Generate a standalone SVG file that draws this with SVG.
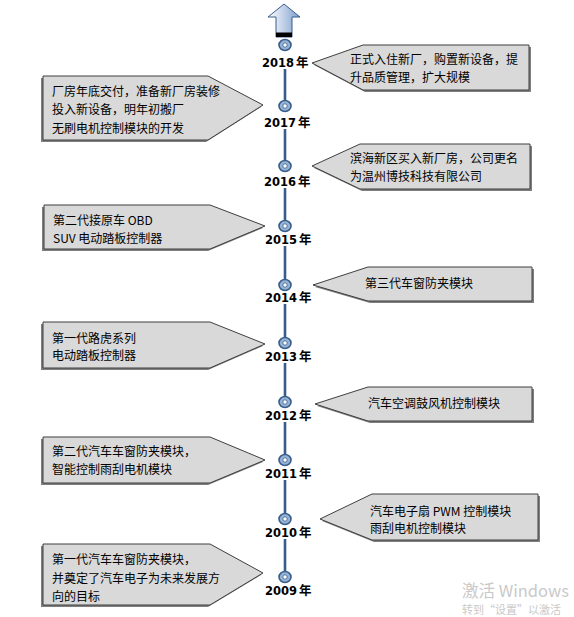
<svg xmlns="http://www.w3.org/2000/svg" width="574" height="617" viewBox="0 0 574 617">
<style>
.box{fill:#D9D9D9;stroke:#3F3F3F;stroke-width:1}
.sh{fill:#7F7F7F}
.t{font-family:"Noto Sans CJK SC","Liberation Sans",sans-serif;font-size:12px;fill:#000}
.yr{font-family:"DejaVu Sans","Liberation Sans",sans-serif;font-weight:bold;font-size:11.5px;fill:#000}
.yc{font-family:"Noto Sans CJK SC",sans-serif;font-weight:bold;font-size:12.5px}
.ln{stroke:#385D8A;stroke-width:2.6;fill:none}
.dot{fill:#95B3D7;stroke:#385D8A;stroke-width:1.6}
.hole{fill:#fff;stroke:#385D8A;stroke-width:0.8}
.wm{font-family:"Noto Sans CJK SC","Open Sans",sans-serif;fill:#C9C9C9}
</style>
<defs>
<linearGradient id="ag" x1="0" y1="0" x2="1" y2="0">
<stop offset="0" stop-color="#FFFFFF"/>
<stop offset="1" stop-color="#7E9ECF"/>
</linearGradient>
</defs>

<g id="arrow">
<polygon points="284,4 300,17 292,17 292,37 276,37 276,17 268,17" fill="url(#ag)" stroke="#385D8A" stroke-width="1"/>
<rect x="276" y="32.5" width="16" height="4.5" fill="#000"/>
</g>

<g id="connectors">
<line class="ln" x1="285" y1="69" x2="285" y2="100"/>
<line class="ln" x1="285" y1="129" x2="285" y2="160"/>
<line class="ln" x1="285" y1="188" x2="285" y2="220"/>
<line class="ln" x1="285" y1="246" x2="285" y2="279"/>
<line class="ln" x1="285" y1="304" x2="285" y2="337"/>
<line class="ln" x1="285" y1="363" x2="285" y2="396"/>
<line class="ln" x1="285" y1="422" x2="285" y2="454"/>
<line class="ln" x1="285" y1="480" x2="285" y2="513"/>
<line class="ln" x1="285" y1="539" x2="285" y2="571"/>
</g>

<g id="y2018"><ellipse class="dot" cx="285" cy="45" rx="6" ry="5.5"/><circle class="hole" cx="285" cy="45" r="2.2"/>
<text x="262" y="67" class="yr">2018</text><text x="296" y="67" class="yc">年</text></g>
<g id="y2017"><ellipse class="dot" cx="285" cy="106" rx="6" ry="5.5"/><circle class="hole" cx="285" cy="106" r="2.2"/>
<text x="264" y="127" class="yr">2017</text><text x="298" y="127" class="yc">年</text></g>
<g id="y2016"><ellipse class="dot" cx="285" cy="166" rx="6" ry="5.5"/><circle class="hole" cx="285" cy="166" r="2.2"/>
<text x="264" y="186" class="yr">2016</text><text x="298" y="186" class="yc">年</text></g>
<g id="y2015"><ellipse class="dot" cx="285" cy="226" rx="6" ry="5.5"/><circle class="hole" cx="285" cy="226" r="2.2"/>
<text x="265" y="244" class="yr">2015</text><text x="299" y="244" class="yc">年</text></g>
<g id="y2014"><ellipse class="dot" cx="285" cy="285" rx="6" ry="5.5"/><circle class="hole" cx="285" cy="285" r="2.2"/>
<text x="265" y="302" class="yr">2014</text><text x="299" y="302" class="yc">年</text></g>
<g id="y2013"><ellipse class="dot" cx="285" cy="343" rx="6" ry="5.5"/><circle class="hole" cx="285" cy="343" r="2.2"/>
<text x="265" y="361" class="yr">2013</text><text x="299" y="361" class="yc">年</text></g>
<g id="y2012"><ellipse class="dot" cx="285" cy="402" rx="6" ry="5.5"/><circle class="hole" cx="285" cy="402" r="2.2"/>
<text x="265" y="420" class="yr">2012</text><text x="299" y="420" class="yc">年</text></g>
<g id="y2011"><ellipse class="dot" cx="285" cy="460" rx="6" ry="5.5"/><circle class="hole" cx="285" cy="460" r="2.2"/>
<text x="265" y="478" class="yr">2011</text><text x="299" y="478" class="yc">年</text></g>
<g id="y2010"><ellipse class="dot" cx="285" cy="519" rx="6" ry="5.5"/><circle class="hole" cx="285" cy="519" r="2.2"/>
<text x="265" y="537" class="yr">2010</text><text x="299" y="537" class="yc">年</text></g>
<g id="y2009"><ellipse class="dot" cx="285" cy="577" rx="6" ry="5.5"/><circle class="hole" cx="285" cy="577" r="2.2"/>
<text x="265" y="595" class="yr">2009</text><text x="299" y="595" class="yc">年</text></g>

<!-- right boxes -->
<g id="b2018">
<polygon class="sh" points="314,65 365,47 531,47 531,92 365,92"/>
<polygon class="box" points="312,63 363,45 529,45 529,90 363,90"/>
<text class="t" x="350" y="64">正式入住新厂，购置新设备，提</text>
<text class="t" x="350" y="82">升品质管理，扩大规模</text>
</g>
<g id="b2016">
<polygon class="sh" points="314,168 362,146 532,146 532,191 362,191"/>
<polygon class="box" points="312,166 360,144 530,144 530,189 360,189"/>
<text class="t" x="350" y="163">滨海新区买入新厂房，公司更名</text>
<text class="t" x="350" y="181">为温州博技科技有限公司</text>
</g>
<g id="b2014">
<polygon class="sh" points="315,287 370,269 534,269 534,303 370,303"/>
<polygon class="box" points="313,285 368,267 532,267 532,301 368,301"/>
<text class="t" x="365" y="288">第三代车窗防夹模块</text>
</g>
<g id="b2012">
<polygon class="sh" points="317,406 370,389 534,389 534,423 370,423"/>
<polygon class="box" points="315,404 368,387 532,387 532,421 368,421"/>
<text class="t" x="368" y="408">汽车空调鼓风机控制模块</text>
</g>
<g id="b2010">
<polygon class="sh" points="322,521 374,496 540,496 540,542 374,542"/>
<polygon class="box" points="320,519 372,494 538,494 538,540 372,540"/>
<text class="t" x="370" y="516">汽车电子扇 PWM 控制模块</text>
<text class="t" x="370" y="533">雨刮电机控制模块</text>
</g>

<!-- left boxes -->
<g id="b2017">
<polygon class="sh" points="41,78 206,78 261,107 206,142 41,142"/>
<polygon class="box" points="43,76 208,76 263,105 208,140 43,140"/>
<text class="t" x="52" y="96">厂房年底交付，准备新厂房装修</text>
<text class="t" x="52" y="114">投入新设备，明年初搬厂</text>
<text class="t" x="52" y="133">无刷电机控制模块的开发</text>
</g>
<g id="b2015">
<polygon class="sh" points="42,207 208,207 263,228 208,251 42,251"/>
<polygon class="box" points="44,205 210,205 265,226 210,249 44,249"/>
<text class="t" x="53" y="225">第二代接原车 OBD</text>
<text class="t" x="53" y="243">SUV 电动踏板控制器</text>
</g>
<g id="b2013">
<polygon class="sh" points="41,324 208,324 263,346 208,370 41,370"/>
<polygon class="box" points="43,322 210,322 265,344 210,368 43,368"/>
<text class="t" x="52" y="343">第一代路虎系列</text>
<text class="t" x="52" y="360">电动踏板控制器</text>
</g>
<g id="b2011">
<polygon class="sh" points="41,439 208,439 263,462 208,485 41,485"/>
<polygon class="box" points="43,437 210,437 265,460 210,483 43,483"/>
<text class="t" x="52" y="456">第二代汽车车窗防夹模块，</text>
<text class="t" x="52" y="474">智能控制雨刮电机模块</text>
</g>
<g id="b2009">
<polygon class="sh" points="41,546 208,546 261,575 208,607 41,607"/>
<polygon class="box" points="43,544 210,544 263,573 210,605 43,605"/>
<text class="t" x="52" y="564">第一代汽车车窗防夹模块，</text>
<text class="t" x="52" y="583">并奠定了汽车电子为未来发展方</text>
<text class="t" x="52" y="601">向的目标</text>
</g>

<g id="watermark">
<text class="wm" x="462" y="597" font-size="16.5">激活 Windows</text>
<text class="wm" x="462" y="614" font-size="11">转到“设置”以激活</text>
</g>
</svg>
